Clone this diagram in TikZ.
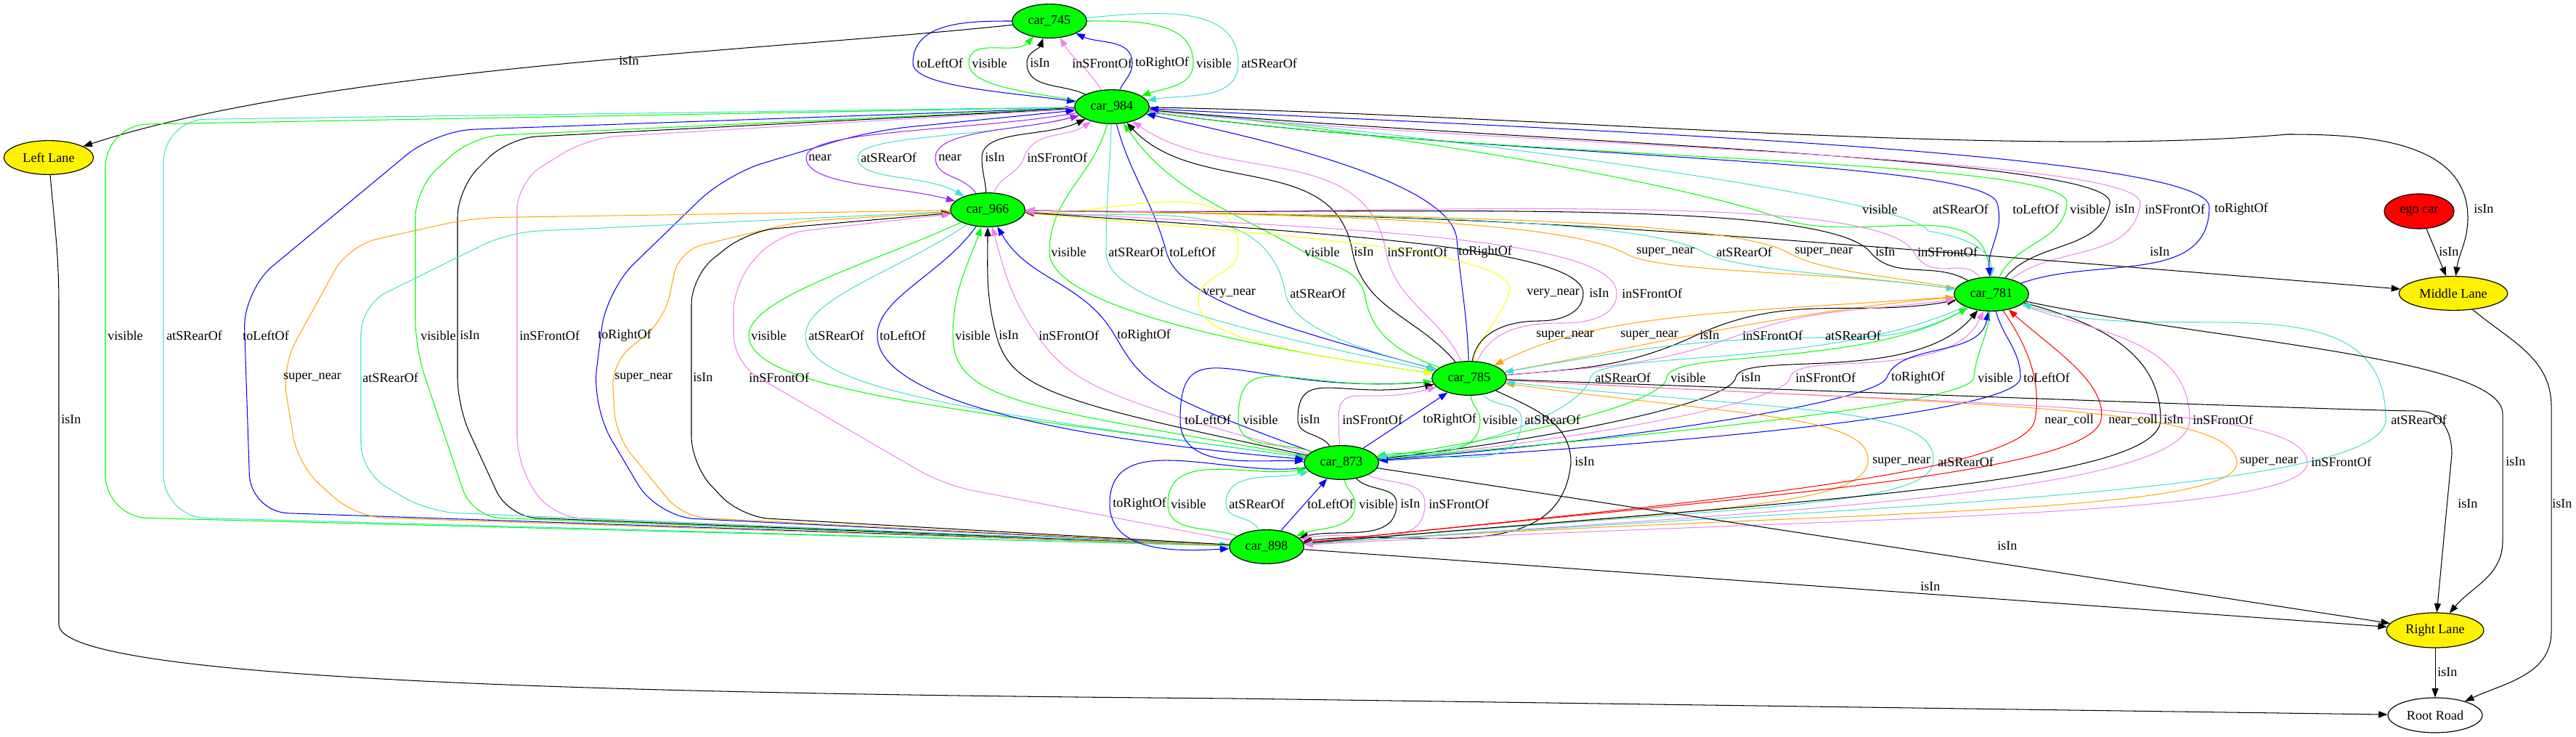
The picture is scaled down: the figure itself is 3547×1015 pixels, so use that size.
\documentclass[tikz,border=0pt]{standalone}
\usepackage{fontspec}
\setmainfont{Liberation Serif}
\usetikzlibrary{arrows.meta,shapes.geometric}
\definecolor{cg}{HTML}{00FF00}
\definecolor{ct}{HTML}{40E0D0}
\definecolor{cv}{HTML}{EE82EE}
\definecolor{cb}{HTML}{0000FF}
\definecolor{co}{HTML}{FFA500}
\definecolor{cy}{HTML}{FFFF00}
\definecolor{cr}{HTML}{FF0000}
\definecolor{cp}{HTML}{A020F0}
\begin{document}
\begin{tikzpicture}[x=0.77pt,y=-0.77pt,
  base/.style={ellipse,draw,line width=0.9pt,inner sep=0,font=\fontsize{14}{14}\selectfont,minimum height=36pt},
  car/.style={base,fill=cg,minimum width=79pt},
  lane/.style={base,fill=yellow},
  egon/.style={base,fill=cr,minimum width=74pt,minimum height=37pt},
  road/.style={base,fill=white,minimum width=100pt,minimum height=37pt},
  ed/.style={line width=0.8pt,-{Triangle[length=9.5pt,width=7pt]}},
  lab/.style={inner sep=0,anchor=west,font=\fontsize{14}{14}\selectfont}]
\fill[white] (0,0) rectangle (3547,1015);
\useasboundingbox (0,0) rectangle (3547,1015);
% nodes
\node[car] (c745) at (1445,29) {car\_745};
\node[car] (c984) at (1531,147) {car\_984};
\node[car] (c966) at (1360,289) {car\_966};
\node[car] (c781) at (2742,405) {car\_781};
\node[car] (c785) at (2023,521) {car\_785};
\node[car] (c873) at (1847,637) {car\_873};
\node[car] (c898) at (1744,753) {car\_898};
\node[lane,minimum width=95pt] (ll) at (67,217) {Left Lane};
\node[egon] (ego) at (3331,291) {ego car};
\node[lane,minimum width=115pt] (ml) at (3378,404) {Middle Lane};
\node[lane,minimum width=103pt,minimum height=37pt] (rl) at (3353,868) {Right Lane};
\node[road] (rr) at (3353,985) {Root Road};
% A: car_745 <-> car_984
\draw[ed,cb] (c745) to[out=180,in=90] (1257,87) to[out=-90,in=172,out distance=25pt] (c984);
\draw[ed,cg] (c984) to[out=170,in=-90,in distance=25pt] (1334,87) to[out=90,in=-135] (c745);
\draw[ed] (c984) to[out=155,in=-90] (1414,87) to[out=90,in=-110] (c745);
\draw[ed,cv] (c984) to[out=122,in=-58] (c745);
\draw[ed,cb] (c984) to[out=65,in=-90] (1559,87) to[out=90,in=-25] (c745);
\draw[ed,cg] (c745) to[out=0,in=90] (1643,87) to[out=-90,in=20] (c984);
\draw[ed,ct] (c745) to[out=5,in=90] (1705,87) to[out=-90,in=10] (c984);
% B
\draw[ed] (c745) to[out=186,in=18,looseness=0.7] (ll);
% C: car_984 <-> car_898 (far left)
\draw[ed,cg,rounded corners=45pt] (c984) -- (145,172) -- (145,712) -- (c898);
\draw[ed,ct,rounded corners=45pt] (c984) -- (225,165) -- (225,712) -- (c898);
\draw[ed,cb,rounded corners=40pt] (c984) -- (600,180) -- (335,400) -- (345,705) -- (c898);
\draw[ed,cg,rounded corners=30pt] (c898) -- (650,712) -- (572,480) -- (572,260) -- (650,188) -- (c984);
\draw[ed,rounded corners=30pt] (c898) -- (700,712) -- (630,560) -- (630,260) -- (700,190) -- (c984);
\draw[ed,cv,rounded corners=30pt] (c898) -- (760,712) -- (712,640) -- (712,250) -- (810,190) -- (c984);
\draw[ed,cb,rounded corners=40pt] (c898) -- (905,712) -- (815,560) -- (835,400) -- (1000,240) -- (1200,180) -- (c984);
% D: car_966 <-> car_898
\draw[ed,co,rounded corners=30pt] (c966) -- (650,300) -- (480,338) -- (388,505) -- (410,640) -- (490,712) -- (c898);
\draw[ed,ct,rounded corners=30pt] (c966) -- (700,320) -- (497,420) -- (497,650) -- (590,705) -- (c898);
\draw[ed,co,rounded corners=25pt] (c898) -- (940,712) -- (848,600) -- (842,500) -- (915,440) -- (935,345) -- (1100,305) -- (c966);
\draw[ed,rounded corners=30pt] (c898) -- (1020,712) -- (952,640) -- (952,380) -- (1030,318) -- (c966);
\draw[ed,cv,rounded corners=30pt] (c898) -- (1300,668) -- (1010,500) -- (1010,390) -- (1070,322) -- (c966);
% E: car_984 <-> car_966
\draw[ed,cp] (c984) to[out=190,in=90,in distance=30pt] (1110,217) to[out=-90,in=165,out distance=30pt] (c966);
\draw[ed,ct] (c984) to[out=195,in=90,in distance=25pt] (1181,217) to[out=-90,in=150,out distance=25pt] (c966);
\draw[ed,cp] (c966) to[out=125,in=-90,out distance=25pt] (1288,217) to[out=90,in=195,out distance=30pt] (c984);
\draw[ed] (c966) to[out=95,in=-90] (1352,217) to[out=90,in=205,out distance=30pt] (c984);
\draw[ed,cv] (c966) to[out=70,in=-110] (1410,217) to[out=70,in=215] (c984);
% F: car_984 <-> car_781
\draw[ed,cg] (c984) to[out=-5,in=160,in distance=100pt] (2450,300) to[out=-20,in=95] (c781);
\draw[ed,ct] (c984) to[out=-5,in=120,in distance=40pt] (2655,318) to[out=-10,in=90] (c781);
\draw[ed,cb] (c984) to[out=-8,in=105,in distance=50pt] (2750,280) to[out=-75,in=95] (c781);
\draw[ed,cg] (c781) to[out=65,in=-95] (2846,280) to[out=85,in=-8,out distance=50pt] (c984);
\draw[ed] (c781) to[out=50,in=-100] (2905,280) to[out=80,in=-5,out distance=50pt] (c984);
\draw[ed,cv] (c781) to[out=37,in=-97] (2947,280) .. controls +(87:52pt) and +(-6:400pt) .. (c984);
\draw[ed,cb] (c781) to[out=20,in=-90] (3042,285) .. controls +(90:60pt) and +(-3:430pt) .. (c984);
% K: to Middle Lane
\draw[ed] (c984) .. controls +(-1:450pt) and +(185:300pt) .. (3150,185) to[out=0,in=90] (3398,300) to[out=-90,in=82] (ml);
\draw[ed] (ego) -- (ml);
\draw[ed] (c966) .. controls (2100,300) .. (ml);
% G: car_984 <-> car_785
\draw[ed,cg] (c984) to[out=-105,in=90] (1445,347) to[out=-90,in=172,out distance=50pt,in distance=250pt] (c785);
\draw[ed,ct] (c984) to[out=-92,in=90] (1523,347) to[out=-90,in=168,out distance=50pt,in distance=230pt] (c785);
\draw[ed,cb] (c984) to[out=-75,in=105] (1606,347) to[out=-75,in=165,out distance=50pt,in distance=180pt] (c785);
\draw[ed,cg] (c785) to[out=160,in=-80] (1880,410) to[out=100,in=-30] (1792,345) to[out=150,in=-55] (c984);
\draw[ed] (c785) to[out=130,in=-80] (1862,345) to[out=100,in=-47] (c984);
\draw[ed,cv] (c785) to[out=115,in=-80] (1908,345) to[out=100,in=-35] (c984);
\draw[ed,cb] (c785) to[out=92,in=-85] (2006,330) to[out=95,in=-12,out distance=60pt] (c984);
% H: car_966 <-> car_785
\draw[ed,cy] (c966) to[out=-4,in=90] (1705,345) to[out=-90,in=90] (1650,412) to[out=-90,in=172,out distance=30pt,in distance=220pt] (c785);
\draw[ed,ct] (c966) to[out=-5,in=100] (1770,404) to[out=-80,in=165,out distance=40pt] (c785);
\draw[ed,cy] (c785) to[out=75,in=-110] (2078,404) to[out=70,in=-5,out distance=50pt,in distance=250pt] (c966);
\draw[ed] (c785) to[out=80,in=180] (2120,442) to[out=0,in=-90] (2180,404) to[out=90,in=-4,out distance=50pt,in distance=300pt] (c966);
\draw[ed,cv] (c785) to[out=65,in=180] (2150,445) to[out=0,in=-90] (2226,404) to[out=90,in=-3,out distance=60pt,in distance=330pt] (c966);
% I: car_966 <-> car_873
\draw[ed,cg] (c966) to[out=205,in=90,in distance=40pt] (1031,462) to[out=-90,in=172,out distance=60pt,in distance=350pt] (c873);
\draw[ed,ct] (c966) to[out=215,in=90,in distance=40pt] (1109,462) to[out=-90,in=172,out distance=60pt,in distance=330pt] (c873);
\draw[ed,cb] (c966) to[out=235,in=90,in distance=40pt] (1208,462) to[out=-90,in=175,out distance=60pt,in distance=300pt] (c873);
\draw[ed,cg] (c873) to[out=170,in=-90,out distance=300pt,in distance=70pt] (1312,462) to[out=90,in=-110] (c966);
\draw[ed] (c873) to[out=168,in=-75,out distance=270pt,in distance=60pt] (1372,462) to[out=105,in=-90] (c966);
\draw[ed,cv] (c873) to[out=165,in=-55,out distance=230pt,in distance=60pt] (1428,462) to[out=125,in=-75] (c966);
\draw[ed,cb] (c873) to[out=160,in=-60,out distance=180pt,in distance=60pt] (1535,462) to[out=120,in=-60] (c966);
% J: car_966 <-> car_781
\draw[ed,co] (c966) to[out=-1,in=150,in distance=80pt] (2240,350) to[out=-30,in=172,out distance=40pt] (c781);
\draw[ed,ct] (c966) to[out=-1,in=150,in distance=80pt] (2345,347) to[out=-30,in=172,out distance=40pt] (c781);
\draw[ed,co] (c781) to[out=170,in=-30,in distance=40pt] (2462,348) to[out=150,in=-1,out distance=80pt] (c966);
\draw[ed] (c781) to[out=150,in=-50,in distance=40pt] (2575,347) to[out=130,in=-1,out distance=80pt] (c966);
\draw[ed,cv] (c781) to[out=125,in=-60,in distance=40pt] (2635,347) to[out=120,in=-1,out distance=80pt] (c966);
% L: car_781 <-> car_785
\draw[ed,co] (c781) .. controls (2400,430) and (2200,430) .. (c785);
\draw[ed,co] (c785) .. controls (2250,480) and (2450,430) .. (c781);
\draw[ed] (c785) to[out=5,in=-155] (2335,462) to[out=25,in=190] (c781);
\draw[ed,cv] (c785) to[out=5,in=-160] (2393,462) to[out=20,in=188] (c781);
\draw[ed,ct] (c781) to[out=210,in=0] (2510,465) to[out=180,in=10] (c785);
% M: car_781 <-> car_873
\draw[ed,ct] (c781) to[out=205,in=75,in distance=30pt] (2190,520) to[out=-105,in=5,out distance=40pt] (c873);
\draw[ed,cg] (c873) to[out=8,in=-95,in distance=30pt] (2295,520) to[out=85,in=-150,out distance=30pt] (c781);
\draw[ed] (c873) to[out=6,in=-100,in distance=30pt] (2390,520) to[out=80,in=-130,out distance=30pt] (c781);
\draw[ed,cv] (c873) to[out=5,in=-100,in distance=30pt] (2465,520) to[out=80,in=-115,out distance=30pt] (c781);
\draw[ed,cb] (c873) to[out=4,in=-110,in distance=30pt] (2598,520) to[out=70,in=-100,out distance=40pt] (c781);
\draw[ed,cg] (c781) to[out=-95,in=85] (2718,520) to[out=-95,in=5,out distance=30pt] (c873);
\draw[ed,cb] (c781) to[out=-75,in=90] (2782,520) to[out=-90,in=3,out distance=40pt] (c873);
% N: car_785 <-> car_873
\draw[ed,cb] (c785) to[out=185,in=90,out distance=200pt] (1625,578) to[out=-90,in=178] (c873);
\draw[ed,cg] (c873) to[out=160,in=-90] (1705,578) to[out=90,in=185,in distance=150pt] (c785);
\draw[ed] (c873) to[out=125,in=-90] (1787,578) to[out=90,in=190,in distance=100pt] (c785);
\draw[ed,cv] (c873) to[out=95,in=-90] (1843,578) to[out=90,in=195,in distance=80pt] (c785);
\draw[ed,cb] (c873) -- (c785);
\draw[ed,cg] (c785) to[out=-85,in=90] (2038,578) to[out=-90,in=10] (c873);
\draw[ed,ct] (c785) to[out=-50,in=90] (2095,578) to[out=-90,in=8] (c873);
% O: car_873 <-> car_898
\draw[ed,cb] (c873) to[out=188,in=90] (1528,694) to[out=-90,in=183] (c898);
\draw[ed,cg] (c898) to[out=160,in=-90] (1608,694) to[out=90,in=190] (c873);
\draw[ed,ct] (c898) to[out=115,in=-90] (1688,694) to[out=90,in=195] (c873);
\draw[ed,cb] (c898) -- (c873);
\draw[ed,cg] (c873) to[out=-80,in=90] (1866,694) to[out=-90,in=20] (c898);
\draw[ed] (c873) to[out=-47,in=90] (1923,694) to[out=-90,in=15] (c898);
\draw[ed,cv] (c873) to[out=-25,in=90] (1962,694) to[out=-90,in=12] (c898);
% P, Q: car_785 <-> car_898
\draw[ed] (c785) to[out=-25,in=90] (2163,637) to[out=-95,in=8] (c898);
\draw[ed,co] (c898) to[out=5,in=-95,out distance=400pt,in distance=50pt] (2572,636) to[out=85,in=-8,out distance=50pt,in distance=250pt] (c785);
\draw[ed,ct] (c898) to[out=5,in=-95,out distance=450pt,in distance=50pt] (2662,636) to[out=85,in=-6,out distance=60pt,in distance=300pt] (c785);
\draw[ed,co] (c785) to[out=-3,in=95,out distance=500pt,in distance=60pt] (3080,636) .. controls +(-85:60pt) and +(4:550pt) .. (c898);
\draw[ed,cv] (c785) to[out=-3,in=95,out distance=560pt,in distance=60pt] (3177,636) .. controls +(-85:60pt) and +(3:620pt) .. (c898);
% R: car_781 <-> car_898
\draw[ed,cr] (c781) to[out=-55,in=80,in distance=40pt] (2802,578) to[out=-100,in=6,out distance=60pt,in distance=400pt] (c898);
\draw[ed,cr] (c898) to[out=6,in=-100,out distance=450pt,in distance=60pt] (2893,578) to[out=80,in=-42,out distance=40pt] (c781);
\draw[ed] (c781) to[out=-15,in=90] (2975,578) to[out=-90,in=5,out distance=70pt,in distance=500pt] (c898);
\draw[ed,cv] (c781) to[out=-20,in=90] (3015,578) .. controls +(-90:80pt) and +(4:520pt) .. (c898);
\draw[ed,ct] (c898) .. controls +(4:600pt) and +(-90:80pt) .. (3285,578) to[out=90,in=-18] (c781);
% S: lanes and road
\draw[ed] (c785) to[out=-2,in=180,in distance=60pt] (3330,566) to[out=0,in=90,out distance=25pt] (3376,625) -- (rl);
\draw[ed] (c781) to[out=-12,in=90,in distance=60pt] (3446,570) -- (3446,745) to[out=-90,in=50] (rl);
\draw[ed] (ml) to[out=-40,in=90] (3513,560) -- (3513,870) to[out=-90,in=25] (rr);
\draw[ed] (rl) -- (rr);
\draw[ed] (ll) to[out=-85,in=90] (81,420) -- (81,860) .. controls (81,935) and (800,955) .. (1700,962) -- (rr);
\draw[ed] (c873) -- (rl);
\draw[ed] (c898) -- (rl);
% labels
\foreach \lx/\lt in {1262/toLeftOf,1338/visible,1418/isIn,1476/inSFrontOf,1563/toRightOf,1647/visible,1709/atSRearOf}
  \node[lab] at (\lx,87) {\lt};
\foreach \lx/\lt in {1113/near,1185/atSRearOf,1292/near,1356/isIn,1414/inSFrontOf}
  \node[lab] at (\lx,217) {\lt};
\foreach \lx/\lt in {2564/visible,2661/atSRearOf,2771/toLeftOf,2850/visible,2912/isIn,2953/inSFrontOf,3049/toRightOf,3406/isIn}
  \node[lab] at (\lx,288) {\lt};
\foreach \lx/\lt in {1447/visible,1526/atSRearOf,1610/toLeftOf,1796/visible,1864/isIn,1910/inSFrontOf,2008/toRightOf,2253/super\_near,2363/atSRearOf,2471/super\_near,2582/isIn,2640/inSFrontOf,2960/isIn,3358/isIn}
  \node[lab] at (\lx,347) {\lt};
\foreach \lx/\lt in {1656/very\_near,1776/atSRearOf,2102/very\_near,2188/isIn,2233/inSFrontOf}
  \node[lab] at (\lx,404) {\lt};
\foreach \lx/\lt in {148/visible,229/atSRearOf,334/toLeftOf,579/visible,633/isIn,715/inSFrontOf,823/toRightOf,1034/visible,1113/atSRearOf,1211/toLeftOf,1315/visible,1375/isIn,1430/inSFrontOf,1538/toRightOf,2115/super\_near,2231/super\_near,2340/isIn,2399/inSFrontOf,2513/atSRearOf}
  \node[lab] at (\lx,462) {\lt};
\foreach \lx/\lt in {390/super\_near,499/atSRearOf,846/super\_near,954/isIn,1031/inSFrontOf,2196/atSRearOf,2300/visible,2397/isIn,2472/inSFrontOf,2604/toRightOf,2723/visible,2786/toLeftOf}
  \node[lab] at (\lx,520) {\lt};
\foreach \lx/\lt in {84/isIn,1631/toLeftOf,1711/visible,1790/isIn,1848/inSFrontOf,1959/toRightOf,2041/visible,2099/atSRearOf,2815/near\_coll,2903/near\_coll,2979/isIn,3019/inSFrontOf,3292/atSRearOf}
  \node[lab] at (\lx,578) {\lt};
\foreach \lx/\lt in {2168/isIn,2578/super\_near,2668/atSRearOf,3084/super\_near,3182/inSFrontOf,3450/isIn}
  \node[lab] at (\lx,636) {\lt};
\foreach \lx/\lt in {1532/toRightOf,1612/visible,1692/atSRearOf,1800/toLeftOf,1871/visible,1928/isIn,1967/inSFrontOf,3384/isIn,3514/isIn}
  \node[lab] at (\lx,694) {\lt};
\node[lab] at (2750,752) {isIn};
\node[lab] at (2644,808) {isIn};
\node[lab] at (3356,926) {isIn};
\node[lab,anchor=center] at (866,84) {isIn};
\end{tikzpicture}
\end{document}
